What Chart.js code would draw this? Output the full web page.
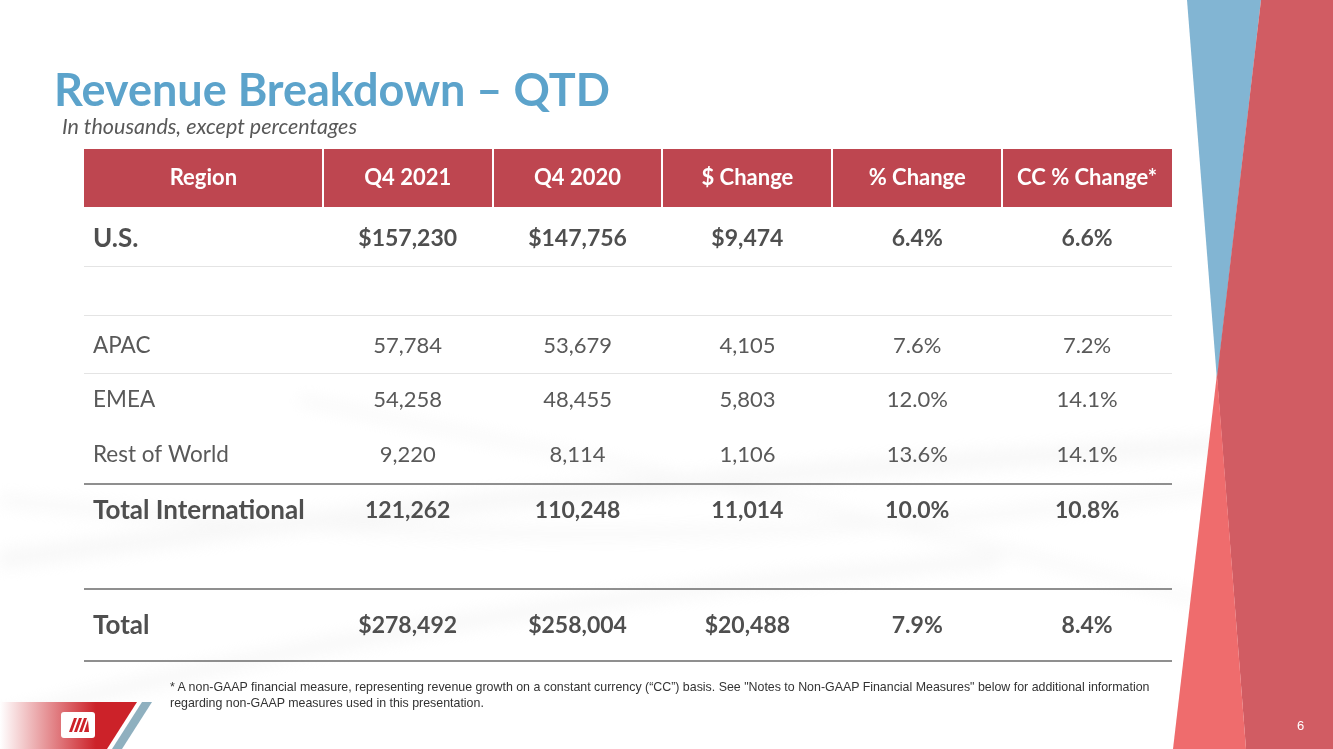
<!DOCTYPE html>
<html>
<head>
<meta charset="utf-8">
<script src="https://cdn.jsdelivr.net/npm/chart.js@4.4.1/dist/chart.umd.min.js"></script>
<style>
  body { margin: 0; background: #fff; }
  #slide { position: relative; width: 1333px; height: 749px; overflow: hidden; background: #fff; }
  #bg, #revTable { position: absolute; left: 0; top: 0; }
  .title { position: absolute; left: 54px; top: 67px; font: bold 45px Lato, sans-serif; line-height: 1; color: #5ca3cb; white-space: nowrap; }
  .subtitle { position: absolute; left: 62px; top: 116px; font: italic 21.5px Lato, sans-serif; line-height: 1; color: #595959; white-space: nowrap; }
  .note { position: absolute; left: 170px; top: 679px; font: 12.4px "Liberation Sans", Arial, sans-serif; line-height: 16px; color: #333; white-space: nowrap; }
  .page { position: absolute; left: 1297px; top: 718px; font: 13px "Liberation Sans", Arial, sans-serif; color: #fff; }
</style>
</head>
<body>
<div id="slide">
  <svg id="bg" width="1333" height="749">
    <defs>
      <linearGradient id="logoFade" x1="0" x2="1" y1="0" y2="0">
        <stop offset="0" stop-color="#ffffff"/>
        <stop offset="0.7" stop-color="#cc2229"/>
        <stop offset="1" stop-color="#cc2229"/>
      </linearGradient>
      <filter id="soft"><feGaussianBlur stdDeviation="8"/></filter>
    </defs>
    <!-- faint background swooshes -->
    <g filter="url(#soft)" fill="none" stroke="#eeeeee" opacity="0.45">
      <path d="M0 560 C 300 520, 700 470, 1333 440" stroke-width="18"/>
      <path d="M0 500 C 400 540, 800 560, 1333 470" stroke-width="10"/>
      <path d="M0 720 C 250 650, 600 590, 1000 560" stroke-width="14"/>
      <path d="M300 400 C 600 460, 900 520, 1200 600" stroke-width="8"/>
    </g>
    <!-- right side decoration -->
    <polygon points="1187,0 1261,0 1217,380" fill="#82b5d3"/>
    <polygon points="1261,0 1333,0 1333,749 1246,749 1217,377" fill="#d15c63"/>
    <polygon points="1217,374 1246,749 1173,749" fill="#ef6c6d"/>
    <!-- logo band -->
    <polygon points="0,702 137,702 107,749 0,749" fill="url(#logoFade)"/>
    <polygon points="142,702 152,702 122,749 112,749" fill="#8fb0bf"/>
    <rect x="61" y="712" width="34" height="26" rx="3" fill="#fff"/>
    <g fill="#cc2229">
      <polygon points="69,732 72,732 77,718 74,718"/>
      <polygon points="74,732 77,732 82,718 79,718"/>
      <polygon points="79,732 82,732 87,718 84,718"/>
      <polygon points="84,732 89,732 88,720"/>
    </g>
  </svg>
  <canvas id="revTable" width="1333" height="749"></canvas>
  <div class="title">Revenue Breakdown – QTD</div>
  <div class="subtitle">In thousands, except percentages</div>
  <div class="note">* A non-GAAP financial measure, representing revenue growth on a constant currency (“CC”) basis. See "Notes to Non-GAAP Financial Measures" below for additional information<br>regarding non-GAAP measures used in this presentation.</div>
  <div class="page">6</div>
</div>
<script>
// table data (in thousands, except percentages)
const headers = ['Region', 'Q4 2021', 'Q4 2020', '$ Change', '% Change', 'CC % Change*'];
const regions = ['U.S.', 'APAC', 'EMEA', 'Rest of World', 'Total International', 'Total'];
const q4_2021 = [157230, 57784, 54258, 9220, 121262, 278492];
const q4_2020 = [147756, 53679, 48455, 8114, 110248, 258004];
const dollarChange = [9474, 4105, 5803, 1106, 11014, 20488];
const pctChange = [6.4, 7.6, 12.0, 13.6, 10.0, 7.9];
const ccPctChange = [6.6, 7.2, 14.1, 14.1, 10.8, 8.4];

const boldRows = ['U.S.', 'Total International', 'Total'];
const dollarRows = ['U.S.', 'Total'];

// layout of the table (x in column units, y in table units from the top)
const colEdges = [0, 1.406, 2.406, 3.406, 4.406, 5.406, 6.406];
const headerBottom = 58;
const rowY = [90, 197, 251, 306, 362, 477];
const lightLines = [117, 166, 224];
const darkLines = [335, 440, 512];

const money = (v, r) => (dollarRows.includes(regions[r]) ? '$' : '') + v.toLocaleString('en-US');
const pct = v => v.toFixed(1) + '%';

const columns = [
    regions,
    q4_2021.map(money),
    q4_2020.map(money),
    dollarChange.map(money),
    pctChange.map(pct),
    ccPctChange.map(pct)
];

const datasets = columns.map((texts, c) => ({
    label: headers[c],
    texts: texts,
    data: texts.map((t, r) => ({
        x: c === 0 ? colEdges[0] : (colEdges[c] + colEdges[c + 1]) / 2,
        y: rowY[r]
    })),
    pointRadius: 0,
    pointHoverRadius: 0
}));

const tablePlugin = {
    id: 'tablePlugin',
    beforeDatasetsDraw(chart) {
        const { ctx, scales: { x, y } } = chart;
        const left = x.getPixelForValue(colEdges[0]);
        const right = x.getPixelForValue(colEdges[colEdges.length - 1]);
        const top = y.getPixelForValue(0);
        const hb = y.getPixelForValue(headerBottom);
        ctx.save();
        ctx.fillStyle = '#be4650';
        ctx.fillRect(left, top, right - left, hb - top);
        ctx.fillStyle = '#ffffff';
        colEdges.slice(1, -1).forEach(e => {
            ctx.fillRect(Math.round(x.getPixelForValue(e)) - 1, top, 2, hb - top);
        });
        ctx.strokeStyle = '#e4e4e4';
        ctx.lineWidth = 1;
        lightLines.forEach(v => {
            const py = Math.round(y.getPixelForValue(v)) + 0.5;
            ctx.beginPath(); ctx.moveTo(left, py); ctx.lineTo(right, py); ctx.stroke();
        });
        ctx.strokeStyle = '#6a6a6a';
        ctx.lineWidth = 1.5;
        darkLines.forEach(v => {
            const py = y.getPixelForValue(v);
            ctx.beginPath(); ctx.moveTo(left, py); ctx.lineTo(right, py); ctx.stroke();
        });
        ctx.restore();
    },
    afterDatasetsDraw(chart) {
        const { ctx, scales: { x, y } } = chart;
        ctx.save();
        ctx.textBaseline = 'middle';
        // header labels
        ctx.fillStyle = '#ffffff';
        ctx.font = 'bold 22px Lato, sans-serif';
        ctx.textAlign = 'center';
        headers.forEach((h, c) => {
            const cx = x.getPixelForValue((colEdges[c] + colEdges[c + 1]) / 2);
            ctx.fillText(h, cx, y.getPixelForValue(headerBottom / 2));
        });
        // body cells
        chart.data.datasets.forEach((ds, c) => {
            const meta = chart.getDatasetMeta(c);
            meta.data.forEach((pt, r) => {
                const bold = boldRows.includes(regions[r]);
                let size = bold ? (c === 0 ? 26 : 23) : (c === 0 ? 22.5 : 22);
                ctx.font = (bold ? 'bold ' : '') + size + 'px Lato, sans-serif';
                ctx.fillStyle = bold ? '#4f4f4f' : '#595959';
                ctx.textAlign = c === 0 ? 'left' : 'center';
                ctx.fillText(ds.texts[r], pt.x + (c === 0 ? 9 : 0), pt.y);
            });
        });
        ctx.restore();
    }
};

new Chart(document.getElementById('revTable'), {
    type: 'scatter',
    data: { datasets: datasets },
    options: {
        responsive: false,
        devicePixelRatio: 1,
        animation: false,
        events: [],
        layout: { padding: { left: 84, right: 161, top: 149, bottom: 88 } },
        scales: {
            x: { type: 'linear', display: false, min: colEdges[0], max: colEdges[colEdges.length - 1] },
            y: { type: 'linear', display: false, min: 0, max: 512, reverse: true }
        },
        plugins: {
            legend: { display: false },
            tooltip: { enabled: false }
        }
    },
    plugins: [tablePlugin]
});
</script>
</body>
</html>
